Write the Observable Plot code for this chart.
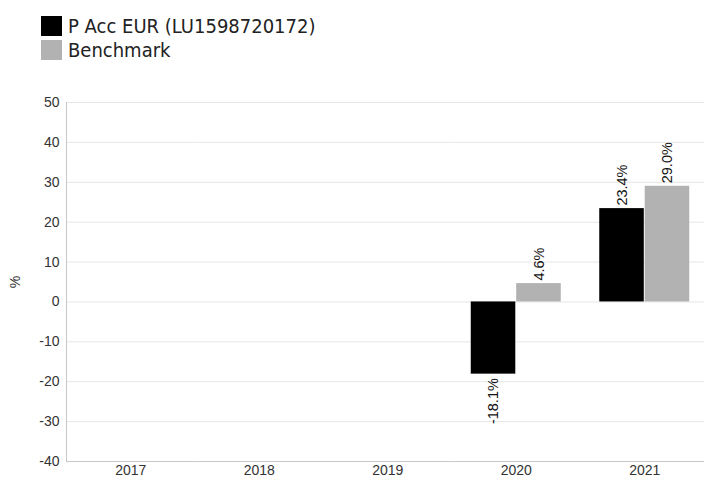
<!DOCTYPE html>
<html><head><meta charset="utf-8">
<script src="https://cdn.jsdelivr.net/npm/d3@7"></script>
<script src="https://cdn.jsdelivr.net/npm/@observablehq/plot@0.6"></script>
<style>
body{margin:0;background:#fff;}
#legend{height:70px;box-sizing:border-box;padding:14px 0 0 41px;font-family:"DejaVu Sans Condensed","DejaVu Sans",sans-serif;font-stretch:condensed;font-size:20px;color:#222;}
.row{display:flex;align-items:center;height:24px;}
.sw{width:21px;height:20px;margin-right:6px;flex:none;}
#chart svg{display:block;}
</style></head><body>
<div id="legend"></div><div id="chart"></div>
<script>
const years = ["2017", "2018", "2019", "2020", "2021"];
const seriesNames = ["P Acc EUR (LU1598720172)", "Benchmark"];
const fundReturns = [null, null, null, -18.1, 23.4];
const benchmarkReturns = [null, null, null, 4.6, 29.0];
const seriesColors = ["#000000", "#b2b2b2"];
const yTicks = [-40, -30, -20, -10, 0, 10, 20, 30, 40, 50];

const rows = [];
years.forEach((y, i) => {
  rows.push({year: y, series: seriesNames[0], value: fundReturns[i]});
  rows.push({year: y, series: seriesNames[1], value: benchmarkReturns[i]});
});
const fmt = v => v.toFixed(1) + "%";

const legend = document.getElementById("legend");
seriesNames.forEach((s, i) => {
  const r = document.createElement("div"); r.className = "row";
  const sw = document.createElement("div"); sw.className = "sw"; sw.style.background = seriesColors[i];
  const t = document.createElement("span"); t.textContent = s;
  r.appendChild(sw); r.appendChild(t); legend.appendChild(r);
});

const chart = Plot.plot({
  width: 704, height: 409,
  marginTop: 32, marginBottom: 18, marginLeft: 66, marginRight: 0,
  style: {fontFamily: "'Liberation Sans', Arial, sans-serif", fontSize: "14px", color: "#333", background: "#fff"},
  fx: {domain: years, range: [66, 708.5], padding: 0, round: false, label: null},
  x: {domain: seriesNames, paddingInner: 0.02, paddingOuter: 0.4235, round: false, axis: null},
  y: {domain: [-40, 50], ticks: yTicks},
  color: {domain: seriesNames, range: seriesColors},
  marks: [
    Plot.gridY(yTicks, {stroke: "#e6e6e6", strokeOpacity: 1}),
    Plot.ruleY([-40], {stroke: "#c8c8c8"}),
    Plot.frame({anchor: "left", stroke: "#c8c8c8", facet: "super"}),
    Plot.barY(rows, {fx: "year", x: "series", y: "value", fill: "series"}),
    Plot.text(rows.filter(d => d.value != null && d.value >= 0), {fx: "year", x: "series", y: "value", text: d => fmt(d.value), rotate: -90, textAnchor: "start", dy: -3, fill: "#111", fontSize: 14.5}),
    Plot.text(rows.filter(d => d.value != null && d.value < 0), {fx: "year", x: "series", y: "value", text: d => fmt(d.value), rotate: -90, textAnchor: "end", dy: 4, fill: "#111", fontSize: 14.5}),
    Plot.axisY(yTicks, {tickSize: 0, tickPadding: 7, tickFormat: d => String(d), label: "%", labelArrow: "none", labelAnchor: "center", labelOffset: 56, fill: "#333"}),
    Plot.axisFx({anchor: "bottom", tickSize: 0, tickPadding: 4, label: null, fill: "#333"})
  ]
});
document.getElementById("chart").appendChild(chart);
</script>
</body></html>
